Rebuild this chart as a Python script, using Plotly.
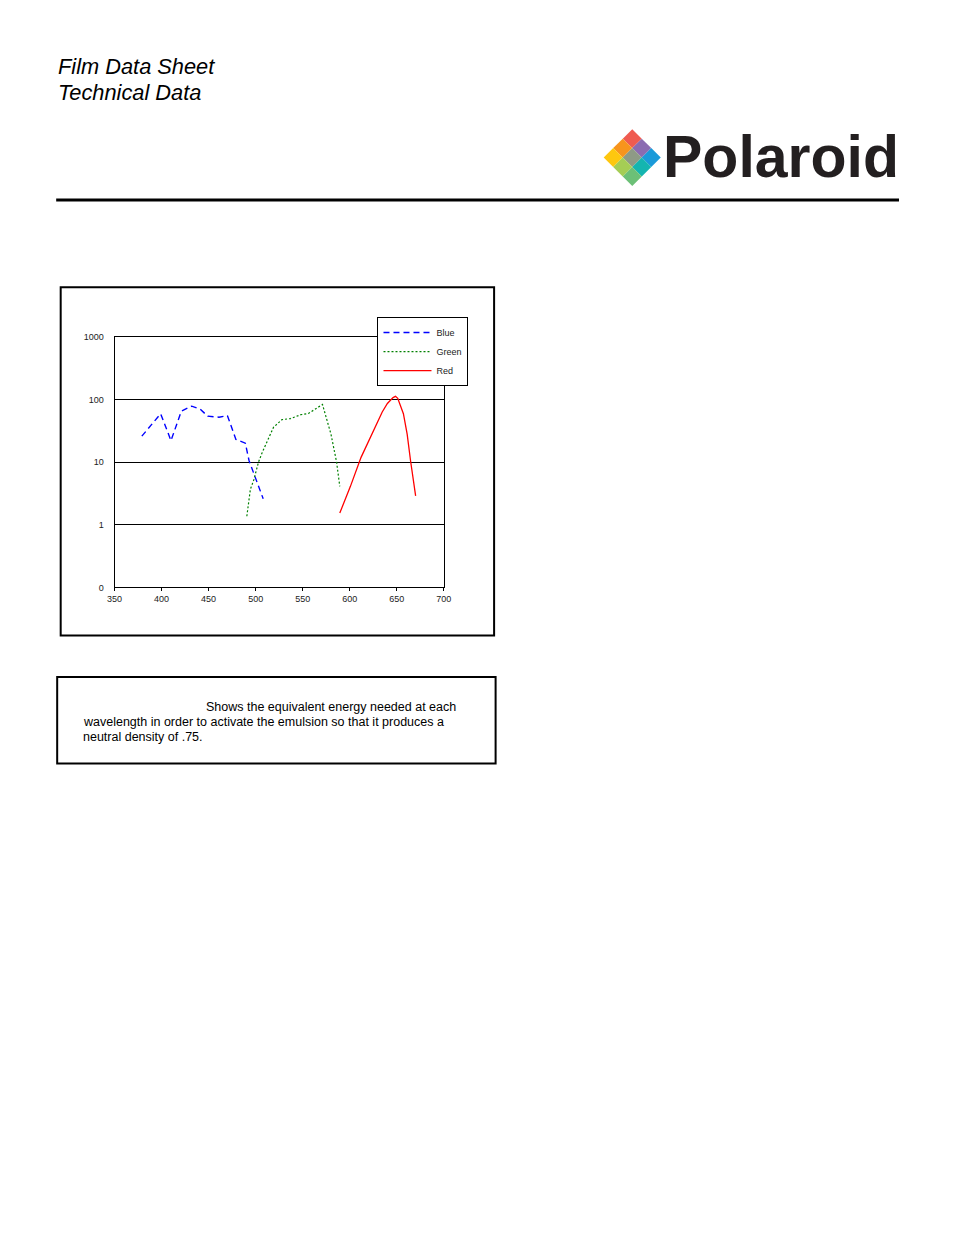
import plotly.graph_objects as go

# Figure is 16px smaller than the window (browser body margin of 8px).
PAGE_W, PAGE_H = 954, 1235
OFF = 8
W, H = PAGE_W - 2 * OFF, PAGE_H - 2 * OFF

# empirical correction of the capture (observed: shot_x = 8 + 0.982*page_x, shot_y = 3 + 0.995*page_y)
SX, OX = 0.982, 8.0
SY, OY = 0.995, 3.0

def px(x):
    page = (x - OX) / SX
    return (page - OFF) / W

def py(y):
    page = (y - OY) / SY
    return 1 - (page - OFF) / H

# ---- data ----
blue_nm = [379, 399, 410, 421, 432, 441, 449, 461, 470, 479, 489, 493, 508]
blue_val = [25.9, 59, 22, 65, 78, 70, 54, 52, 55, 23, 20, 10.5, 2.6]

green_nm = [490.6, 494.4, 498, 503, 507, 519, 528, 537, 548, 556, 571, 580, 586, 589.4]
green_val = [1.37, 3.7, 5.2, 10, 14.3, 36, 47.6, 49.4, 57, 59.5, 83, 28, 10, 4.1]

red_nm = [589.4, 600.7, 612, 624, 634.5, 640, 646, 648.6, 651, 657, 661, 664.6, 670]
red_val = [1.54, 4.1, 11.9, 28.3, 63, 86, 107, 112, 104, 59, 28, 10.5, 2.9]

x_ticks = [350, 400, 450, 500, 550, 600, 650, 700]
y_tickvals = [0.1, 1, 10, 100, 1000]
y_ticktext = ["0", "1", "10", "100", "1000"]

series = [
    ("Blue", blue_nm, blue_val, "#0000ff", "6px,4px", 1.4),
    ("Green", green_nm, green_val, "#008000", "2px,2px", 1.2),
    ("Red", red_nm, red_val, "#ff0000", "solid", 1.3),
]

fig = go.Figure()
for name, xs, ys, col, dash, w in series:
    fig.add_trace(go.Scatter(x=xs, y=ys, mode="lines", name=name,
                             line=dict(color=col, dash=dash, width=w)))

tickfont = dict(family="Liberation Sans, Arial, sans-serif", size=9, color="#222")

fig.update_layout(
    width=W, height=H,
    margin=dict(l=0, r=0, t=0, b=0),
    paper_bgcolor="white", plot_bgcolor="white",
    showlegend=True,
    legend=dict(x=px(377), y=py(316), xanchor="left", yanchor="top",
                bgcolor="white", bordercolor="black", borderwidth=1,
                itemwidth=48,
                font=dict(family="Liberation Sans, Arial, sans-serif", size=9, color="#222"),
                tracegroupgap=0),
    xaxis=dict(domain=[px(114.3), px(443.3)], range=[350, 700],
               tickvals=x_ticks, ticks="outside", ticklen=3, tickcolor="black",
               showgrid=False, zeroline=False, showline=True, linecolor="black",
               linewidth=1, mirror=True, tickfont=tickfont),
    yaxis=dict(domain=[py(587.3), py(335.7)], type="log", range=[-1, 3],
               tickvals=y_tickvals, ticktext=y_ticktext, ticks="",
               ticklabelstandoff=8,
               showgrid=True, gridcolor="black", gridwidth=1, zeroline=False,
               showline=True, linecolor="black", linewidth=1, mirror=True,
               tickfont=tickfont),
)

shapes = []
# outer chart frame
shapes.append(dict(type="rect", xref="paper", yref="paper",
                   x0=px(60.5), x1=px(493.5), y0=py(286), y1=py(635.5),
                   line=dict(color="black", width=2)))
# caption box
shapes.append(dict(type="rect", xref="paper", yref="paper",
                   x0=px(57), x1=px(495), y0=py(677), y1=py(764),
                   line=dict(color="black", width=2)))
# header rule
shapes.append(dict(type="line", xref="paper", yref="paper",
                   x0=px(56), x1=px(898), y0=py(198.5), y1=py(198.5),
                   line=dict(color="black", width=3)))

# Polaroid diamond logo (3x3 grid rotated 45 degrees)
logo_colors = {
    (0, 0): "#ef5b50", (0, 1): "#f7941d", (1, 0): "#8b6bb1",
    (0, 2): "#fec70f", (1, 1): "#8e9a86", (2, 0): "#1a9ad9",
    (1, 2): "#a5cd55", (2, 1): "#14b5b0", (2, 2): "#6cc077",
}
top = (631.5, 127.5)
step = 28.5 / 3
for (i, j), c in logo_colors.items():
    ox = top[0] + i * step - j * step
    oy = top[1] + i * step + j * step
    pts = [(ox, oy), (ox + step, oy + step), (ox, oy + 2 * step), (ox - step, oy + step)]
    path = "M " + " L ".join(f"{px(a):.5f},{py(b):.5f}" for a, b in pts) + " Z"
    shapes.append(dict(type="path", xref="paper", yref="paper", path=path,
                       fillcolor=c, line=dict(width=0)))
fig.update_layout(shapes=shapes)

ann = []
hfont = dict(family="Liberation Sans, Arial, sans-serif", size=21.8, color="black")
ann.append(dict(text="<i>Film Data Sheet</i>", x=px(56), y=py(65), xref="paper", yref="paper",
                xanchor="left", yanchor="middle", showarrow=False, font=hfont))
ann.append(dict(text="<i>Technical Data</i>", x=px(56), y=py(91), xref="paper", yref="paper",
                xanchor="left", yanchor="middle", showarrow=False, font=hfont))
ann.append(dict(text="<b>Polaroid</b>", x=px(900), y=py(155), xref="paper", yref="paper",
                xanchor="right", yanchor="middle", showarrow=False,
                font=dict(family="Liberation Sans, Arial, sans-serif", size=59, color="#231f20")))
cfont = dict(family="Liberation Sans, Arial, sans-serif", size=12.5, color="black")
ann.append(dict(text="Shows the equivalent energy needed at each", x=px(204), y=py(707),
                xref="paper", yref="paper", xanchor="left", yanchor="middle",
                showarrow=False, font=cfont))
ann.append(dict(text="wavelength in order to activate the emulsion so that it produces a",
                x=px(81), y=py(722), xref="paper", yref="paper", xanchor="left",
                yanchor="middle", showarrow=False, font=cfont))
ann.append(dict(text="neutral density of .75.", x=px(81), y=py(737), xref="paper", yref="paper",
                xanchor="left", yanchor="middle", showarrow=False, font=cfont))
fig.update_layout(annotations=ann)

fig.write_html("out.html", config={"displayModeBar": False})
